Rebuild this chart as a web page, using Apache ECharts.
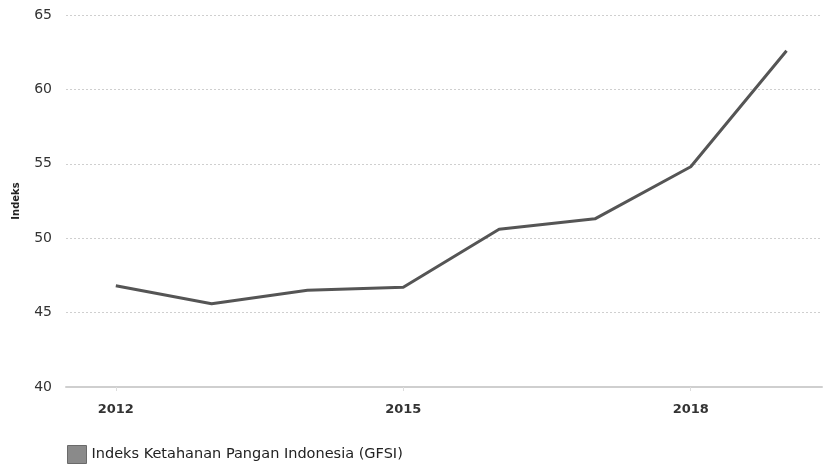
<!DOCTYPE html>
<html>
<head>
<meta charset="utf-8">
<script src="https://cdn.jsdelivr.net/npm/echarts@6/dist/echarts.min.js"></script>
<style>
html,body{margin:0;padding:0;background:#fff;}
#chart{width:826px;height:464px;}
</style>
</head>
<body>
<div id="chart"></div>
<script>
const years = [2012, 2013, 2014, 2015, 2016, 2017, 2018, 2019];
const gfsi = [46.8, 45.6, 46.5, 46.7, 50.6, 51.3, 54.8, 62.6];
const xTickYears = [2012, 2015, 2018];
const seriesName = 'Indeks Ketahanan Pangan Indonesia (GFSI)';
const yAxisName = 'Indeks';

const chart = echarts.init(document.getElementById('chart'), null, {renderer: 'canvas'});
chart.setOption({
  animation: false,
  backgroundColor: '#fff',
  textStyle: {fontFamily: 'DejaVu Sans'},
  grid: {left: 66, right: 4, top: 15, bottom: 77},
  legend: {
    left: 62, top: 440,
    icon: 'rect', itemWidth: 19, itemHeight: 18, itemGap: 10,
    textStyle: {fontSize: 14.5, color: '#222', fontFamily: 'DejaVu Sans'},
    itemStyle: {color: '#8a8a8a', borderColor: '#6a6a6a', borderWidth: 1},
    data: [seriesName]
  },
  xAxis: {
    type: 'value', min: 2011.48, max: 2019.37,
    splitLine: {show: false},
    axisLine: {lineStyle: {color: '#cfcfcf', width: 2}},
    axisTick: {show: true, customValues: xTickYears, length: 4, lineStyle: {color: '#ddd'}},
    axisLabel: {customValues: xTickYears, margin: 16, fontSize: 13, fontWeight: 'bold', color: '#333', formatter: v => String(v)}
  },
  yAxis: {
    type: 'value', min: 40, max: 65, interval: 5,
    name: yAxisName, nameLocation: 'middle', nameGap: 45, nameRotate: 90,
    nameTextStyle: {fontSize: 10, fontWeight: 'bold', color: '#222'},
    axisLine: {show: false}, axisTick: {show: false},
    axisLabel: {margin: 14, fontSize: 14, color: '#333'},
    splitLine: {lineStyle: {color: '#cfcfcf', type: [2, 2], width: 1}}
  },
  series: [{
    name: seriesName,
    type: 'line',
    data: years.map((y, i) => [y, gfsi[i]]),
    showSymbol: false, symbol: 'none',
    lineStyle: {color: '#555', width: 3},
    itemStyle: {color: '#8a8a8a'}
  }]
});
</script>
</body>
</html>
